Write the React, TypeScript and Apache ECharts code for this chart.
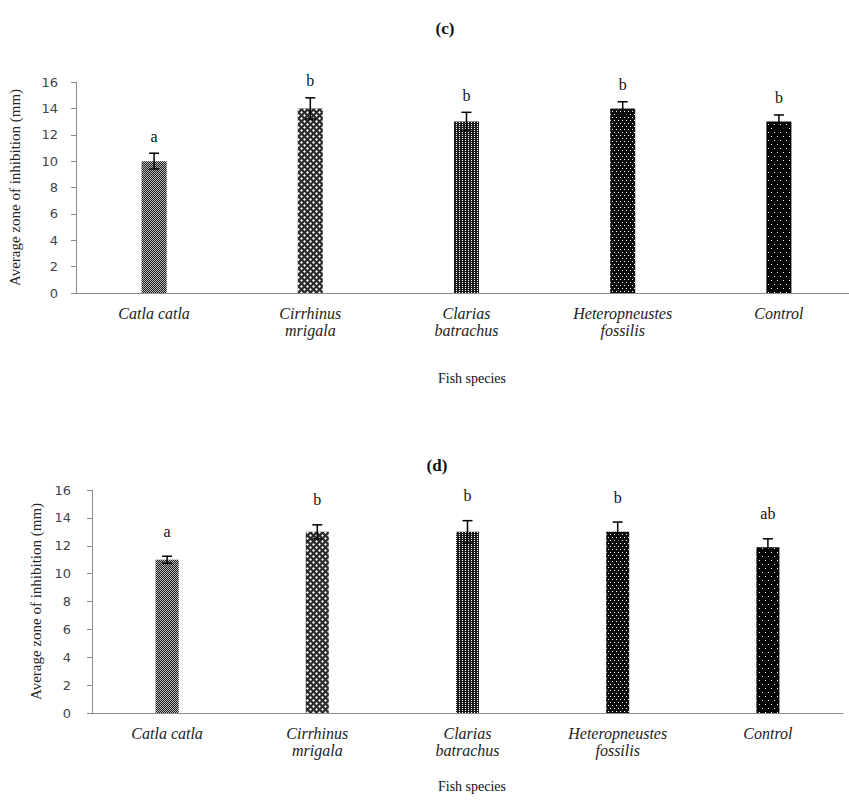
import React, { useEffect, useRef } from "react";
import * as echarts from "echarts";

const categories = ["Catla catla", "Cirrhinus\nmrigala", "Clarias\nbatrachus", "Heteropneustes\nfossilis", "Control"];
const valuesC = [10, 14, 13, 14, 13];
const errorsC = [0.6, 0.8, 0.7, 0.5, 0.5];
const lettersC = ["a", "b", "b", "b", "b"];
const valuesD = [11, 13, 13, 13, 11.9];
const errorsD = [0.25, 0.5, 0.8, 0.7, 0.6];
const lettersD = ["a", "b", "b", "b", "ab"];
const yTicks = [0, 2, 4, 6, 8, 10, 12, 14, 16];

const barFills = ["#b8b8b8", "#2a2a2a", "#1c1c1c", "#0c0c0c", "#000000"];
const barDecals: any[] = [
  { symbol: "rect", symbolSize: 1, color: "#1e1e1e", dashArrayX: [[1, 1], [0, 1, 1, 0]], dashArrayY: [1, 0] },
  { symbol: "diamond", symbolSize: 0.95, color: "#ffffff", dashArrayX: [[3, 3], [0, 3, 3, 0]], dashArrayY: [3, 0] },
  { symbol: "rect", symbolSize: 1, color: "#ffffff", dashArrayX: [1, 2], dashArrayY: [1, 1] },
  { symbol: "rect", symbolSize: 1, color: "#ffffff", dashArrayX: [[1, 3], [0, 2, 1, 1]], dashArrayY: [1, 1.5] },
  { symbol: "rect", symbolSize: 1, color: "#ffffff", dashArrayX: [[1, 5], [0, 3, 1, 2]], dashArrayY: [1, 3] },
];

function errRender(offset: number) {
  return (params: any, api: any) => {
    const i = api.value(0);
    const v = api.value(1);
    const e = api.value(2);
    const top = api.coord([i, v + e]);
    const bot = api.coord([i, v - e]);
    const cap = 5;
    return {
      type: "group",
      children: [
        { type: "line", shape: { x1: top[0], y1: top[1], x2: bot[0], y2: bot[1] }, style: { stroke: "#000", lineWidth: 1.5 } },
        { type: "line", shape: { x1: top[0] - cap, y1: top[1], x2: top[0] + cap, y2: top[1] }, style: { stroke: "#000", lineWidth: 1.5 } },
        { type: "line", shape: { x1: bot[0] - cap, y1: bot[1], x2: bot[0] + cap, y2: bot[1] }, style: { stroke: "#000", lineWidth: 1.5 } },
        {
          type: "text",
          style: {
            text: api.value(3) as any,
            x: top[0],
            y: top[1] - offset,
            align: "center",
            verticalAlign: "middle",
            fontFamily: "Liberation Serif",
            fontSize: 16,
            fill: "#111",
          },
        },
      ],
    };
  };
}

export default function App() {
  const ref = useRef<HTMLDivElement>(null);
  useEffect(() => {
    if (!ref.current) return;
    const chart = echarts.init(ref.current, undefined, { renderer: "svg" });
    const yAxisBase = (nameGap: number, labelMargin: number, gridIndex: number) => ({
      type: "value",
      gridIndex,
      min: 0,
      max: 16,
      interval: 2,
      name: "Average zone of inhibition (mm)",
      nameLocation: "middle",
      nameGap,
      nameTextStyle: { fontFamily: "Liberation Serif", fontSize: 15, color: "#222" },
      axisLine: { show: true, lineStyle: { color: "#8c8c8c", width: 1 } },
      axisTick: { show: true, length: 5, lineStyle: { color: "#8c8c8c" } },
      axisLabel: {
        margin: labelMargin,
        fontFamily: "DejaVu Sans",
        fontSize: 13,
        color: "#444",
        formatter: (v: number) => (yTicks.includes(v) ? String(v) : ""),
      },
      splitLine: { show: false },
    });
    const xAxisBase = (gridIndex: number) => ({
      type: "category",
      gridIndex,
      data: categories,
      axisLine: { show: true, lineStyle: { color: "#8c8c8c", width: 1 } },
      axisTick: { show: false },
      axisLabel: {
        margin: 12,
        interval: 0,
        fontFamily: "Liberation Serif",
        fontStyle: "italic",
        fontSize: 16,
        lineHeight: 17,
        color: "#222",
      },
    });
    const barData = (vals: number[]) =>
      vals.map((v, i) => ({ value: v, itemStyle: { color: barFills[i], decal: barDecals[i] } }));
    const errData = (vals: number[], errs: number[], letters: string[]) =>
      vals.map((v, i) => [i, v, errs[i], letters[i]]);
    const textStyle = (text: string, x: number, y: number, bold: boolean) => ({
      type: "text",
      x,
      y,
      style: {
        text,
        align: "center",
        verticalAlign: "middle",
        fontFamily: "Liberation Serif",
        fontSize: bold ? 17 : 14,
        fontWeight: bold ? "bold" : "normal",
        fill: "#111",
      },
    });
    chart.setOption({
      animation: false,
      backgroundColor: "#ffffff",
      grid: [
        { left: 76, top: 82, right: -8, height: 211, outerBoundsMode: "none", containLabel: false },
        { left: 92, top: 490, right: 6, height: 223, outerBoundsMode: "none", containLabel: false },
      ],
      xAxis: [xAxisBase(0), xAxisBase(1)],
      yAxis: [yAxisBase(54, 18, 0), yAxisBase(48, 21, 1)],
      series: [
        { type: "bar", xAxisIndex: 0, yAxisIndex: 0, barWidth: 25, data: barData(valuesC) },
        { type: "bar", xAxisIndex: 1, yAxisIndex: 1, barWidth: 23, data: barData(valuesD) },
        {
          type: "custom",
          xAxisIndex: 0,
          yAxisIndex: 0,
          renderItem: errRender(17),
          encode: { x: 0, y: 1 },
          data: errData(valuesC, errorsC, lettersC),
          z: 5,
        },
        {
          type: "custom",
          xAxisIndex: 1,
          yAxisIndex: 1,
          renderItem: errRender(25),
          encode: { x: 0, y: 1 },
          data: errData(valuesD, errorsD, lettersD),
          z: 5,
        },
      ],
      graphic: [
        textStyle("(c)", 445, 28, true),
        textStyle("Fish species", 472, 378, false),
        textStyle("(d)", 437, 465, true),
        textStyle("Fish species", 472, 786, false),
      ],
    });
    return () => chart.dispose();
  }, []);
  return <div ref={ref} style={{ position: "fixed", left: 0, top: 0, width: 849, height: 800 }} />;
}
